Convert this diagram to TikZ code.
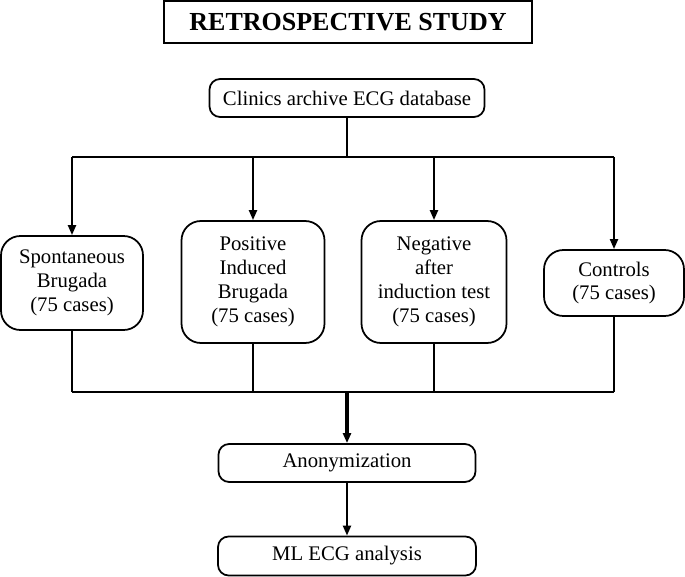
\documentclass[tikz,border=0pt]{standalone}
\usepackage{fontspec}
\setmainfont{Liberation Serif}
\usetikzlibrary{arrows.meta}

\begin{document}
\begin{tikzpicture}[x=0.02cm, y=-0.02cm,
  box/.style={draw, line width=1pt, rounded corners=6pt, align=center, inner sep=0pt,
    font=\fontsize{11.8}{13.6}\selectfont},
  bigbox/.style={box, rounded corners=11pt},
  link/.style={line width=1.3pt},
  arr/.style={line width=1.3pt, -{Triangle[length=5.7pt, width=4.5pt]}}]
  \useasboundingbox (0,0) rectangle (685,577);

  % Nodes
  \node[draw, line width=1pt, minimum width=7.36cm, minimum height=0.84cm,
    font=\fontsize{14.8}{16}\selectfont\bfseries] (title) at (348,22) {RETROSPECTIVE STUDY};
  \node[box, minimum width=5.5cm, minimum height=0.76cm] (clinics) at (347,98) {Clinics archive ECG database};

  \node[bigbox, minimum width=2.84cm, minimum height=1.88cm] (spont) at (72,283) {Spontaneous\\Brugada\\(75 cases)};
  \node[bigbox, minimum width=2.86cm, minimum height=2.44cm] (posind) at (253,282) {Positive\\Induced\\Brugada\\(75 cases)};
  \node[bigbox, minimum width=2.9cm, minimum height=2.44cm] (negind) at (434,282) {Negative\\after\\induction test\\(75 cases)};
  \node[bigbox, minimum width=2.8cm, minimum height=1.32cm] (controls) at (614,283) {Controls\\(75 cases)};

  \node[box, minimum width=5.14cm, minimum height=0.76cm] (anon) at (347,463) {Anonymization};
  \node[box, minimum width=5.16cm, minimum height=0.78cm] (ml) at (347,556) {ML ECG analysis};

  \coordinate (split) at (347,157);
  \coordinate (merge) at (347,392);

  % Split
  \draw[link] (clinics) -- (split);
  \draw[link] (spont.north |- split) -- (controls.north |- split);
  \draw[arr] (spont.north |- split) -- (spont);
  \draw[arr] (posind.north |- split) -- (posind);
  \draw[arr] (negind.north |- split) -- (negind);
  \draw[arr] (controls.north |- split) -- (controls);

  % Merge
  \draw[link] (spont) -- (spont.south |- merge);
  \draw[link] (posind) -- (posind.south |- merge);
  \draw[link] (negind) -- (negind.south |- merge);
  \draw[link] (controls) -- (controls.south |- merge);
  \draw[link] (spont.south |- merge) -- (controls.south |- merge);

  \draw[arr, line width=1.9pt] (merge) -- (anon);
  \draw[arr] (anon) -- (ml);
\end{tikzpicture}
\end{document}
